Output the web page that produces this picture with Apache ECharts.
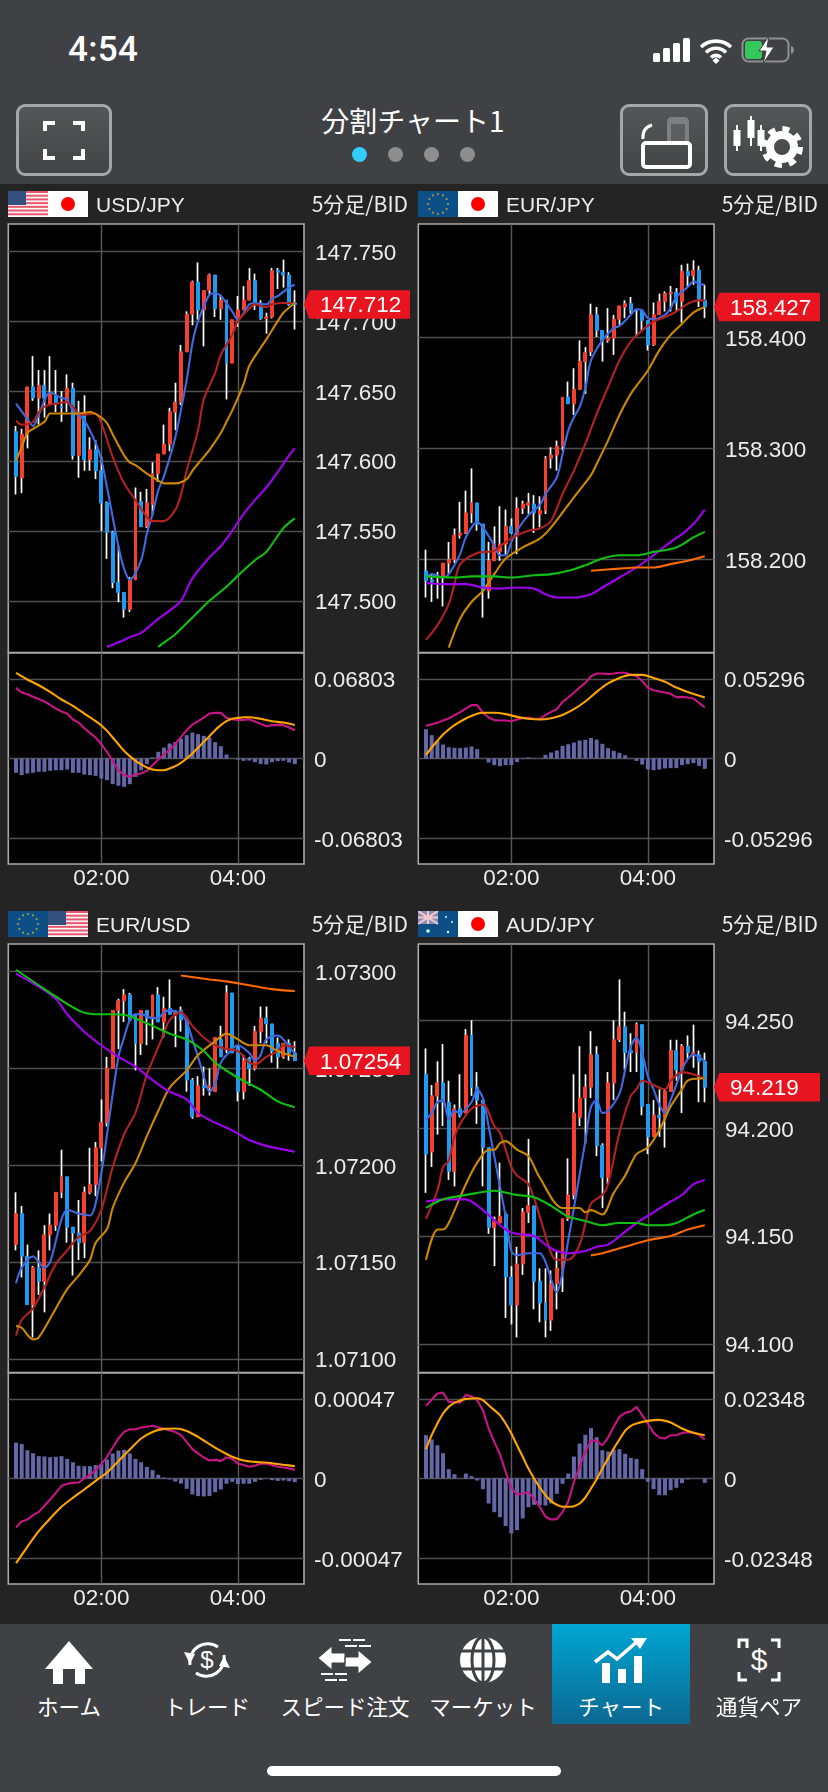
<!DOCTYPE html>
<html lang="ja">
<head>
<meta charset="UTF-8">
<title>分割チャート1</title>
<script src="https://cdn.jsdelivr.net/npm/echarts@6/dist/echarts.min.js"></script>
<style>
  html,body{margin:0;width:828px;height:1792px;background:#242424;overflow:hidden;font-family:"Noto Sans CJK JP","Liberation Sans",sans-serif;color:#fff;}
  #chart{position:absolute;left:0;top:0;width:828px;height:1792px;}
  #top{position:absolute;left:0;top:0;width:828px;height:184px;background:#404144;}
  #nav{position:absolute;left:0;top:1624px;width:828px;height:168px;background:#404144;}
  #time{position:absolute;left:68px;top:29px;font:500 35px Roboto,"Liberation Sans";letter-spacing:.3px;}
  #name{position:absolute;left:213px;width:400px;top:100px;text-align:center;font-size:28px;line-height:40px;}
  .dot{position:absolute;top:147px;width:15px;height:15px;border-radius:50%;background:#8e8e8e;}
  .btn{position:absolute;top:104px;height:66px;border:3px solid #a3a7a7;border-radius:9px;background:linear-gradient(#555658,#434446);}
  .btn svg,.flag svg,.ico svg{display:block;}
  .flag{position:absolute;width:80px;height:26px;}
  .tab{position:absolute;top:1624px;height:100px;text-align:center;font-size:21.5px;}
  .tab span{position:absolute;left:-30px;right:-30px;top:66px;line-height:32px;white-space:nowrap;}
  .tab.on{background:linear-gradient(#00a6d2,#0b6892);}
  .ico{position:absolute;top:12px;left:50%;margin-left:-28px;}
  #bar{position:absolute;left:267px;top:1766px;width:294px;height:10px;border-radius:5px;background:#fff;}
</style>
</head>
<body>
<div id="chart"></div>

<div id="top">
  <div id="time">4:54</div>
  <svg style="position:absolute;left:650px;top:34px" width="150" height="32">
    <rect x="3" y="19" width="7" height="9" rx="1.5" fill="#fff"/><rect x="13" y="14" width="7" height="14" rx="1.5" fill="#fff"/>
    <rect x="23" y="9" width="7" height="19" rx="1.5" fill="#fff"/><rect x="33" y="4" width="7" height="24" rx="1.5" fill="#fff"/>
    <path d="M51 13a22 22 0 0 1 30 0M56 18.500a14 14 0 0 1 20 0M61 23.500a7 7 0 0 1 10 0" fill="none" stroke="#fff" stroke-width="3.600"/>
    <path d="M62.500 26.500l3.500-3 3.500 3-3.500 3.500z" fill="#fff"/>
    <rect x="92.500" y="4.500" width="46" height="23" rx="6" fill="none" stroke="#8d8f90" stroke-width="2"/>
    <rect x="95" y="7" width="17" height="18" rx="3" fill="#34c759"/>
    <path d="M141 12v8c2-.5 3-2 3-4s-1-3.500-3-4z" fill="#8d8f90"/>
    <path d="M119 2l-10 15h7l-3 13 11-17h-7z" fill="#fff" stroke="#404144" stroke-width="1"/>
  </svg>
  <div id="name">分割チャート1</div>
  <div class="dot" style="left:352px;background:#33ccff"></div>
  <div class="dot" style="left:388px"></div>
  <div class="dot" style="left:424px"></div>
  <div class="dot" style="left:460px"></div>
  <div class="btn" style="left:16px;width:90px">
    <svg width="90" height="66"><path d="M26 24v-8h10M64 24v-8h-10M26 42v9h10M64 42v9h-10" fill="none" stroke="#fff" stroke-width="4"/></svg>
  </div>
  <div class="btn" style="left:620px;width:82px">
    <svg width="82" height="66"><rect x="20" y="36" width="47" height="24" rx="3" fill="none" stroke="#fff" stroke-width="4"/>
      <path d="M44 34V15q0-5 5-5h12q5 0 5 5v19z" fill="#7d7f80"/><path d="M48 34V17h14v17z" fill="#5c5e60"/>
      <path d="M20 32q-1-11 9-14" fill="none" stroke="#fff" stroke-width="3"/></svg>
  </div>
  <div class="btn" style="left:724px;width:82px">
    <svg width="82" height="66"><g stroke="#fff" stroke-width="2" fill="#fff"><path d="M10 18v26M24 9v30M34 18v26"/><rect x="7.500" y="24" width="5" height="14"/><rect x="21.500" y="14" width="5" height="16"/><rect x="31.500" y="24" width="5" height="14"/></g>
      <circle cx="55" cy="40" r="12" fill="none" stroke="#fff" stroke-width="8"/><circle cx="55" cy="40" r="18" fill="none" stroke="#fff" stroke-width="6" stroke-dasharray="7 7.100"/></svg>
  </div>
</div>

<div class="flag" style="left:8px;top:191px" id="f0"></div>
<div class="flag" style="left:418px;top:191px" id="f1"></div>
<div class="flag" style="left:8px;top:911px" id="f2"></div>
<div class="flag" style="left:418px;top:911px" id="f3"></div>

<div id="nav"></div>
<div class="tab" style="left:0;width:138px"><div class="ico"><svg width="56" height="48"><path d="M28 5L4 33h8v15h10V33h12v15h10V33h8z" fill="#fff"/></svg></div><span>ホーム</span></div>
<div class="tab" style="left:138px;width:138px"><div class="ico"><svg width="56" height="48"><path d="M11 29a18 18 0 0 1 28-18M45 19a18 18 0 0 1-28 18" fill="none" stroke="#fff" stroke-width="3"/><path d="M5 16l11 2-5 10zM51 32l-11-2 5-10z" fill="#fff"/><text x="28" y="32" font-size="24" text-anchor="middle" fill="#fff" font-family="Liberation Sans">$</text></svg></div><span>トレード</span></div>
<div class="tab" style="left:276px;width:138px"><div class="ico"><svg width="56" height="48"><path d="M1 22l14-12v7h13v10H15v7zM55 26L41 38v-7H28V21h13v-7z" fill="#fff" stroke="#404144"/><path d="M22 4h26M28 10h26M4 38h28M8 44h22" stroke="#fff" stroke-width="2" stroke-dasharray="12 2"/></svg></div><span>スピード注文</span></div>
<div class="tab" style="left:414px;width:138px"><div class="ico"><svg width="56" height="48"><circle cx="28" cy="24" r="23" fill="#fff"/><ellipse cx="28" cy="24" rx="11" ry="23" fill="none" stroke="#404144" stroke-width="3"/><path d="M28 0v48M2 15h52M2 33h52" stroke="#404144" stroke-width="3"/></svg></div><span>マーケット</span></div>
<div class="tab on" style="left:552px;width:138px"><div class="ico"><svg width="56" height="48"><path d="M2 26l13-10 9 7L46 4" fill="none" stroke="#fff" stroke-width="3.500"/><path d="M38 2h16l-7 11z" fill="#fff"/><path d="M9 27h8v20H9zM25 33h8v14h-8zM36 33h0M41 20h8v27h-8z" fill="#fff"/></svg></div><span>チャート</span></div>
<div class="tab" style="left:690px;width:138px"><div class="ico"><svg width="56" height="48"><path d="M16 12V4h-8v8M40 4h8v8M8 36v8h8M48 36v8h-8" transform="translate(0,0)" fill="none" stroke="#fff" stroke-width="3"/><text x="28" y="34" font-size="30" text-anchor="middle" fill="#fff" font-family="Liberation Sans">$</text></svg></div><span>通貨ペア</span></div>
<div id="bar"></div>

<script>
// rows are [open, close, low, high], one per 5 minute candle, first candle is 00:45
const usdJpyCandles = [
[147.621,147.589,147.576,147.625],[147.588,147.619,147.577,147.623],[147.619,147.653,147.609,147.653],[147.653,147.645,147.643,147.675],[147.645,147.654,147.626,147.665],
[147.654,147.645,147.631,147.665],[147.641,147.648,147.640,147.675],[147.646,147.641,147.635,147.665],[147.639,147.638,147.628,147.650],[147.642,147.652,147.635,147.662],
[147.652,147.604,147.601,147.656],[147.604,147.634,147.588,147.643],[147.633,147.601,147.593,147.647],[147.601,147.608,147.593,147.617],[147.608,147.593,147.587,147.615],
[147.593,147.570,147.550,147.603],[147.570,147.549,147.530,147.571],[147.549,147.513,147.509,147.550],[147.513,147.506,147.499,147.539],[147.506,147.494,147.488,147.506],
[147.494,147.515,147.492,147.517],[147.515,147.572,147.515,147.581],[147.571,147.553,147.553,147.578],[147.553,147.570,147.552,147.580],[147.569,147.591,147.561,147.599],
[147.591,147.605,147.585,147.605],[147.605,147.612,147.605,147.626],[147.612,147.635,147.607,147.638],[147.635,147.642,147.622,147.656],[147.642,147.678,147.640,147.683],
[147.678,147.705,147.678,147.707],[147.705,147.728,147.697,147.729],[147.728,147.708,147.701,147.742],[147.708,147.722,147.682,147.722],[147.722,147.733,147.719,147.734],
[147.733,147.709,147.703,147.733],[147.709,147.715,147.701,147.719],[147.715,147.670,147.644,147.715],[147.670,147.701,147.670,147.701],[147.701,147.708,147.696,147.718],
[147.708,147.715,147.708,147.725],[147.715,147.729,147.715,147.738],[147.729,147.712,147.708,147.734],[147.712,147.702,147.701,147.715],[147.702,147.703,147.691,147.706],
[147.703,147.736,147.702,147.738],[147.736,147.735,147.723,147.738],[147.735,147.733,147.724,147.744],[147.733,147.712,147.711,147.735],[147.713,147.712,147.694,147.722]];
const eurJpyCandles = [
[158.190,158.181,158.166,158.209],[158.182,158.180,158.162,158.187],[158.186,158.184,158.165,158.189],[158.184,158.197,158.158,158.197],[158.197,158.200,158.187,158.216],
[158.200,158.222,158.197,158.228],[158.222,158.224,158.219,158.252],[158.224,158.242,158.223,158.262],[158.242,158.251,158.233,158.282],[158.251,158.232,158.226,158.251],
[158.232,158.172,158.148,158.232],[158.172,158.199,158.165,158.216],[158.199,158.214,158.199,158.230],[158.207,158.214,158.199,158.248],[158.214,158.230,158.205,158.245],
[158.230,158.224,158.223,158.237],[158.224,158.246,158.205,158.256],[158.246,158.250,158.241,158.253],[158.249,158.251,158.241,158.260],[158.250,158.242,158.224,158.258],
[158.241,158.244,158.229,158.257],[158.244,158.291,158.241,158.293],[158.291,158.294,158.282,158.301],[158.294,158.302,158.280,158.307],[158.302,158.346,158.298,158.346],
[158.346,158.340,158.340,158.360],[158.340,158.353,158.330,158.372],[158.353,158.378,158.353,158.397],[158.378,158.386,158.349,158.391],[158.387,158.420,158.383,158.430],
[158.420,158.406,158.400,158.427],[158.406,158.397,158.378,158.406],[158.397,158.399,158.395,158.426],[158.399,158.416,158.384,158.420],[158.416,158.428,158.411,158.428],
[158.427,158.430,158.417,158.433],[158.430,158.424,158.421,158.436],[158.425,158.424,158.401,158.425],[158.424,158.415,158.405,158.424],[158.415,158.393,158.388,158.415],
[158.393,158.420,158.392,158.431],[158.420,158.432,158.420,158.439],[158.432,158.439,158.423,158.441],[158.439,158.440,158.423,158.446],[158.440,158.431,158.423,158.444],
[158.432,158.459,158.413,158.465],[158.459,158.455,158.445,158.466],[158.455,158.460,158.447,158.469],[158.460,158.434,158.427,158.464],[158.433,158.427,158.417,158.447]];
const eurUsdCandles = [
[1.07159,1.07175,1.07156,1.07186],[1.07175,1.07153,1.07142,1.07179],[1.07153,1.07128,1.07128,1.07159],[1.07128,1.07147,1.07111,1.07148],[1.07147,1.07140,1.07133,1.07156],
[1.07140,1.07164,1.07124,1.07169],[1.07164,1.07169,1.07156,1.07175],[1.07169,1.07186,1.07166,1.07186],[1.07186,1.07194,1.07183,1.07208],[1.07194,1.07168,1.07160,1.07194],
[1.07168,1.07165,1.07143,1.07168],[1.07165,1.07160,1.07151,1.07182],[1.07160,1.07186,1.07152,1.07189],[1.07186,1.07190,1.07185,1.07209],[1.07190,1.07209,1.07184,1.07212],
[1.07209,1.07222,1.07202,1.07234],[1.07222,1.07250,1.07220,1.07256],[1.07250,1.07280,1.07250,1.07280],[1.07280,1.07285,1.07260,1.07286],[1.07285,1.07288,1.07274,1.07291],
[1.07288,1.07275,1.07274,1.07289],[1.07278,1.07263,1.07249,1.07278],[1.07263,1.07280,1.07257,1.07280],[1.07280,1.07276,1.07262,1.07280],[1.07276,1.07288,1.07265,1.07288],
[1.07288,1.07274,1.07274,1.07292],[1.07274,1.07281,1.07266,1.07287],[1.07281,1.07278,1.07278,1.07296],[1.07278,1.07279,1.07261,1.07280],[1.07280,1.07275,1.07269,1.07282],
[1.07275,1.07244,1.07238,1.07275],[1.07244,1.07225,1.07224,1.07245],[1.07225,1.07241,1.07225,1.07246],[1.07241,1.07240,1.07236,1.07251],[1.07240,1.07241,1.07236,1.07250],
[1.07238,1.07266,1.07238,1.07266],[1.07265,1.07256,1.07256,1.07272],[1.07260,1.07289,1.07258,1.07293],[1.07289,1.07258,1.07258,1.07289],[1.07261,1.07238,1.07233,1.07262],
[1.07238,1.07254,1.07234,1.07257],[1.07255,1.07250,1.07241,1.07256],[1.07250,1.07269,1.07249,1.07272],[1.07269,1.07276,1.07263,1.07282],[1.07276,1.07273,1.07263,1.07282],
[1.07273,1.07259,1.07253,1.07273],[1.07263,1.07256,1.07250,1.07266],[1.07256,1.07263,1.07255,1.07263],[1.07263,1.07258,1.07254,1.07265],[1.07258,1.07254,1.07254,1.07264]];
const audJpyCandles = [
[94.225,94.188,94.170,94.237],[94.189,94.215,94.182,94.220],[94.215,94.221,94.197,94.231],[94.221,94.212,94.201,94.239],[94.212,94.180,94.176,94.222],
[94.180,94.209,94.173,94.211],[94.209,94.206,94.205,94.225],[94.207,94.243,94.207,94.246],[94.243,94.219,94.215,94.250],[94.219,94.213,94.202,94.226],
[94.213,94.191,94.173,94.213],[94.191,94.154,94.151,94.191],[94.154,94.157,94.136,94.159],[94.156,94.159,94.156,94.184],[94.160,94.131,94.112,94.161],
[94.131,94.118,94.109,94.136],[94.118,94.137,94.103,94.145],[94.137,94.161,94.132,94.163],[94.161,94.164,94.156,94.195],[94.164,94.129,94.116,94.164],
[94.129,94.119,94.110,94.135],[94.119,94.111,94.103,94.135],[94.111,94.128,94.106,94.134],[94.128,94.135,94.116,94.143],[94.135,94.158,94.124,94.158],
[94.158,94.169,94.157,94.186],[94.169,94.207,94.167,94.225],[94.205,94.214,94.201,94.238],[94.214,94.219,94.193,94.225],[94.219,94.234,94.214,94.245],
[94.234,94.192,94.187,94.238],[94.192,94.177,94.163,94.193],[94.177,94.221,94.174,94.226],[94.221,94.241,94.213,94.250],[94.241,94.247,94.240,94.269],
[94.247,94.235,94.227,94.254],[94.236,94.235,94.226,94.244],[94.235,94.248,94.226,94.249],[94.248,94.210,94.206,94.248],[94.211,94.196,94.188,94.211],
[94.196,94.206,94.196,94.213],[94.206,94.205,94.196,94.218],[94.205,94.217,94.191,94.218],[94.217,94.236,94.217,94.241],[94.236,94.227,94.222,94.241],
[94.227,94.238,94.207,94.239],[94.238,94.235,94.232,94.243],[94.234,94.235,94.228,94.248],[94.234,94.231,94.212,94.236],[94.231,94.219,94.212,94.235]];

// moving averages as [candle index, price]
const usdJpyMa1 = [[0,147.641],[2,147.630],[3,147.625],[4,147.633],[6,147.649],[8,147.645],[9,147.644],[10,147.636],[12,147.629],[14,147.613],[15,147.601],[16,147.581],[18,147.539],[19,147.523],[20,147.515],[22,147.529],[23,147.548],[24,147.562],[25,147.579],[26,147.589],[28,147.617],[30,147.658],[31,147.684],[32,147.700],[34,147.719],[35,147.720],[36,147.718],[38,147.707],[39,147.701],[41,147.712],[42,147.713],[44,147.712],[45,147.716],[46,147.718],[48,147.724],[49,147.726]];
const usdJpyMa2 = [[0,147.629],[1,147.626],[3,147.628],[4,147.635],[5,147.639],[7,147.641],[9,147.642],[11,147.634],[12,147.633],[14,147.634],[15,147.627],[17,147.603],[19,147.584],[21,147.572],[23,147.560],[24,147.557],[26,147.557],[28,147.565],[29,147.576],[30,147.593],[32,147.622],[33,147.644],[35,147.663],[36,147.676],[38,147.690],[39,147.700],[41,147.709],[42,147.712],[44,147.710],[45,147.712],[47,147.713],[49,147.713]];
const usdJpyMa3 = [[0,147.600],[1,147.610],[2,147.620],[3,147.623],[5,147.628],[6,147.634],[8,147.634],[10,147.634],[11,147.634],[13,147.635],[15,147.631],[16,147.627],[17,147.619],[19,147.604],[20,147.599],[21,147.597],[23,147.591],[25,147.586],[26,147.584],[28,147.584],[30,147.587],[31,147.593],[32,147.598],[34,147.608],[36,147.620],[37,147.628],[38,147.636],[40,147.655],[41,147.668],[43,147.681],[44,147.687],[46,147.700],[47,147.706],[49,147.713]];
const usdJpyMa4 = [[16,147.467],[19,147.472],[20,147.474],[22,147.477],[25,147.487],[27,147.493],[29,147.500],[31,147.516],[34,147.531],[36,147.539],[38,147.550],[40,147.562],[42,147.572],[44,147.581],[46,147.592],[48,147.604],[49,147.609]];
const usdJpyMa5 = [[25,147.467],[27,147.473],[28,147.476],[32,147.492],[34,147.500],[37,147.510],[39,147.518],[42,147.529],[44,147.535],[47,147.552],[49,147.559]];

const eurJpyMa1 = [[0,158.184],[1,158.187],[3,158.184],[4,158.187],[6,158.205],[7,158.220],[9,158.234],[10,158.229],[12,158.213],[13,158.204],[14,158.204],[15,158.216],[16,158.226],[18,158.240],[20,158.249],[21,158.259],[23,158.274],[24,158.295],[25,158.316],[26,158.328],[27,158.337],[28,158.354],[29,158.379],[31,158.397],[33,158.408],[34,158.410],[36,158.420],[37,158.425],[38,158.424],[39,158.417],[40,158.416],[42,158.420],[43,158.426],[44,158.436],[46,158.445],[47,158.450],[48,158.448],[49,158.447]];
const eurJpyMa2 = [[0,158.128],[2,158.141],[4,158.160],[5,158.178],[6,158.196],[9,158.206],[12,158.208],[14,158.216],[16,158.222],[18,158.226],[20,158.228],[22,158.235],[24,158.259],[26,158.280],[28,158.304],[30,158.331],[32,158.355],[34,158.379],[36,158.396],[38,158.406],[40,158.414],[42,158.418],[44,158.423],[46,158.430],[48,158.433],[49,158.433]];
const eurJpyMa3 = [[4,158.121],[6,158.147],[8,158.162],[10,158.172],[12,158.187],[14,158.201],[17,158.211],[20,158.219],[22,158.229],[26,158.256],[29,158.276],[30,158.286],[32,158.307],[34,158.330],[36,158.349],[39,158.370],[41,158.388],[43,158.402],[45,158.412],[47,158.422],[49,158.427]];
const eurJpyMa4 = [[0,158.179],[3,158.178],[7,158.178],[10,158.175],[13,158.174],[16,158.175],[19,158.174],[21,158.169],[23,158.166],[26,158.166],[29,158.169],[31,158.175],[34,158.184],[37,158.193],[40,158.204],[43,158.216],[45,158.223],[47,158.232],[49,158.245]];
const eurJpyMa5 = [[0,158.185],[5,158.184],[8,158.185],[12,158.185],[15,158.184],[19,158.186],[22,158.187],[25,158.190],[28,158.195],[31,158.201],[34,158.204],[37,158.204],[40,158.207],[44,158.211],[47,158.220],[49,158.225]];
const eurJpyMa6 = [[29,158.190],[34,158.192],[37,158.193],[40,158.193],[43,158.196],[46,158.199],[49,158.203]];

const eurUsdMa1 = [[0,1.07139],[1,1.07147],[3,1.07153],[5,1.07147],[6,1.07150],[8,1.07172],[9,1.07177],[11,1.07175],[13,1.07174],[15,1.07196],[16,1.07216],[18,1.07256],[19,1.07266],[20,1.07275],[21,1.07278],[22,1.07278],[24,1.07276],[25,1.07276],[26,1.07279],[27,1.07280],[29,1.07278],[30,1.07274],[31,1.07265],[32,1.07256],[33,1.07246],[34,1.07238],[35,1.07242],[36,1.07253],[38,1.07260],[39,1.07262],[41,1.07258],[42,1.07254],[43,1.07257],[44,1.07265],[46,1.07267],[47,1.07265],[48,1.07261],[49,1.07258]];
const eurUsdMa2 = [[0,1.07112],[1,1.07120],[3,1.07126],[5,1.07137],[7,1.07149],[9,1.07156],[11,1.07163],[13,1.07166],[15,1.07177],[17,1.07199],[19,1.07216],[21,1.07227],[23,1.07247],[24,1.07254],[26,1.07268],[27,1.07275],[29,1.07279],[31,1.07272],[33,1.07266],[35,1.07262],[37,1.07260],[39,1.07259],[41,1.07253],[42,1.07252],[44,1.07256],[46,1.07259],[47,1.07262],[49,1.07261]];
const eurUsdMa3 = [[0,1.07117],[1,1.07116],[3,1.07110],[4,1.07111],[7,1.07126],[9,1.07136],[11,1.07143],[13,1.07151],[14,1.07160],[16,1.07167],[17,1.07178],[19,1.07191],[21,1.07201],[23,1.07215],[25,1.07228],[27,1.07240],[30,1.07249],[32,1.07257],[35,1.07264],[37,1.07268],[39,1.07265],[41,1.07262],[44,1.07262],[46,1.07259],[49,1.07256]];
const eurUsdMa4 = [[0,1.07299],[3,1.07294],[7,1.07286],[9,1.07278],[12,1.07269],[15,1.07262],[18,1.07256],[21,1.07251],[24,1.07244],[27,1.07238],[30,1.07234],[32,1.07227],[35,1.07222],[38,1.07218],[41,1.07213],[44,1.07210],[49,1.07207]];
const eurUsdMa5 = [[0,1.07301],[5,1.07291],[11,1.07280],[14,1.07278],[17,1.07278],[20,1.07277],[24,1.07272],[27,1.07268],[30,1.07265],[33,1.07259],[35,1.07253],[38,1.07247],[41,1.07242],[43,1.07239],[46,1.07233],[49,1.07230]];
const eurUsdMa6 = [[29,1.07298],[34,1.07296],[37,1.07295],[41,1.07293],[45,1.07291],[49,1.07290]];

const audJpyMa1 = [[0,94.204],[1,94.207],[2,94.212],[3,94.213],[4,94.204],[5,94.208],[6,94.207],[8,94.212],[9,94.218],[10,94.214],[11,94.201],[13,94.173],[14,94.159],[15,94.143],[16,94.141],[18,94.142],[20,94.142],[21,94.138],[23,94.124],[24,94.133],[25,94.148],[26,94.163],[28,94.194],[29,94.210],[30,94.213],[31,94.207],[32,94.208],[34,94.216],[35,94.227],[36,94.238],[37,94.242],[38,94.235],[39,94.224],[40,94.218],[41,94.211],[42,94.207],[43,94.213],[45,94.227],[46,94.232],[47,94.234],[48,94.233],[49,94.231]];
const audJpyMa2 = [[0,94.158],[2,94.171],[3,94.182],[4,94.185],[5,94.196],[6,94.202],[8,94.209],[10,94.211],[12,94.201],[13,94.198],[15,94.182],[16,94.178],[18,94.174],[20,94.159],[22,94.142],[23,94.139],[25,94.139],[27,94.146],[29,94.165],[31,94.169],[32,94.174],[34,94.198],[36,94.215],[37,94.218],[38,94.222],[42,94.218],[43,94.222],[45,94.226],[47,94.225],[49,94.223]];
const audJpyMa3 = [[0,94.139],[2,94.153],[3,94.153],[4,94.156],[7,94.174],[9,94.184],[11,94.190],[12,94.190],[13,94.193],[14,94.194],[16,94.190],[18,94.187],[20,94.177],[24,94.163],[27,94.163],[28,94.161],[29,94.162],[31,94.160],[33,94.170],[35,94.178],[37,94.188],[39,94.191],[41,94.199],[43,94.210],[45,94.218],[46,94.222],[48,94.223],[49,94.223]];
const audJpyMa4 = [[0,94.166],[3,94.167],[7,94.167],[10,94.162],[14,94.153],[16,94.151],[19,94.150],[21,94.146],[23,94.143],[25,94.142],[28,94.143],[30,94.145],[32,94.146],[35,94.152],[37,94.156],[40,94.161],[43,94.166],[45,94.169],[47,94.174],[49,94.176]];
const audJpyMa5 = [[0,94.163],[3,94.167],[7,94.169],[12,94.171],[16,94.169],[19,94.168],[22,94.164],[25,94.159],[28,94.157],[31,94.155],[34,94.156],[37,94.156],[39,94.155],[42,94.155],[44,94.156],[47,94.160],[49,94.162]];
const audJpyMa6 = [[29,94.141],[31,94.142],[35,94.145],[39,94.148],[43,94.150],[46,94.153],[49,94.155]];

// MACD panels: histogram and signal-style lines
const usdJpyHist = [-.0122,-.0142,-.0128,-.0122,-.0114,-.0114,-.0105,-.0100,-.0100,-.0094,-.0122,-.0122,-.0137,-.0142,-.0148,-.0171,-.0185,-.0219,-.0233,-.0242,-.0219,-.0157,-.0100,-.0048,.0009,.0057,.0094,.0128,.0142,.0171,.0199,.0222,.0208,.0194,.0179,.0140,.0105,.0034,0,-.0009,-.0020,-.0017,-.0031,-.0046,-.0051,-.0031,-.0023,-.0020,-.0034,-.0048];
const usdJpyMacd = [.0603,.0564,.0549,.0527,.0509,.0487,.0458,.0427,.0401,.0384,.0333,.0307,.0259,.0219,.0179,.0122,.0057,-.0023,-.0100,-.0142,-.0157,-.0137,-.0128,-.0105,-.0057,-.0009,.0034,.0077,.0122,.0185,.0242,.0290,.0319,.0350,.0384,.0390,.0390,.0347,.0336,.0330,.0330,.0336,.0316,.0296,.0276,.0285,.0287,.0285,.0265,.0242];
const usdJpySignal = [[0,.0731],[2,.0675],[4,.0626],[6,.0569],[8,.0504],[10,.0450],[12,.0384],[14,.0319],[15,.0282],[16,.0236],[17,.0179],[18,.0122],[19,.0065],[20,.0020],[21,-.0020],[22,-.0051],[23,-.0077],[24,-.0094],[25,-.0100],[26,-.0100],[27,-.0085],[28,-.0065],[29,-.0037],[30,0],[31,.0043],[32,.0091],[33,.0142],[34,.0191],[35,.0242],[36,.0285],[37,.0319],[38,.0339],[39,.0347],[40,.0353],[41,.0353],[43,.0339],[45,.0319],[47,.0307],[49,.0287]];

const eurJpyHist = [.0195,.0155,.0115,.0093,.0075,.0071,.0069,.0073,.0080,.0062,0,-.0027,-.0044,-.0051,-.0044,-.0044,-.0024,-.0004,.0007,.0004,0,.0024,.0040,.0053,.0084,.0095,.0106,.0120,.0124,.0137,.0126,.0098,.0069,.0051,.0038,.0022,.0002,-.0016,-.0040,-.0073,-.0078,-.0073,-.0066,-.0064,-.0064,-.0044,-.0038,-.0031,-.0049,-.0069];
const eurJpyMacd = [.0217,.0228,.0237,.0253,.0266,.0288,.0308,.0332,.0355,.0355,.0304,.0273,.0255,.0253,.0253,.0248,.0259,.0270,.0270,.0264,.0264,.0288,.0310,.0328,.0377,.0406,.0437,.0472,.0503,.0547,.0565,.0565,.0561,.0565,.0570,.0570,.0558,.0547,.0516,.0470,.0454,.0445,.0439,.0430,.0408,.0410,.0406,.0399,.0370,.0339];
const eurJpySignal = [[0,.0024],[1,.0073],[2,.0117],[3,.0160],[4,.0193],[5,.0222],[7,.0266],[9,.0297],[10,.0304],[12,.0304],[14,.0295],[16,.0277],[18,.0264],[20,.0259],[22,.0268],[24,.0290],[26,.0328],[28,.0379],[30,.0443],[32,.0499],[34,.0536],[36,.0556],[38,.0556],[40,.0536],[42,.0510],[44,.0472],[46,.0443],[49,.0406]];

const eurUsdHist = [.000212,.000203,.000167,.000149,.000132,.000130,.000126,.000128,.000132,.000116,.000096,.000075,.000073,.000073,.000079,.000085,.000112,.000148,.000165,.000169,.000148,.000116,.000096,.000069,.000049,.000022,.000006,-.000006,-.000018,-.000030,-.000061,-.000094,-.000104,-.000106,-.000104,-.000081,-.000065,-.000031,-.000020,-.000033,-.000031,-.000031,-.000020,-.000008,0,-.000010,-.000014,-.000012,-.000016,-.000022];
const eurUsdMacd = [-.000289,-.000254,-.000242,-.000216,-.000197,-.000161,-.000124,-.000085,-.000043,-.000031,-.000026,-.000024,0,.000020,.000049,.000085,.000128,.000183,.000236,.000275,.000291,.000291,.000301,.000305,.000311,.000301,.000293,.000285,.000275,.000256,.000216,.000173,.000148,.000124,.000106,.000110,.000104,.000124,.000116,.000089,.000079,.000069,.000075,.000087,.000089,.000079,.000069,.000065,.000059,.000051];
const eurUsdSignal = [[0,-.000500],[2,-.000403],[4,-.000311],[6,-.000236],[8,-.000167],[10,-.000114],[12,-.000065],[14,-.000014],[16,.000035],[18,.000102],[20,.000171],[22,.000236],[24,.000275],[26,.000293],[28,.000295],[30,.000281],[32,.000246],[34,.000203],[36,.000163],[38,.000128],[40,.000106],[42,.000098],[44,.000094],[47,.000081],[49,.000073]];

const audJpyHist = [.01277,.01149,.00982,.00747,.00275,.00128,0,.00147,.00069,-.00059,-.00314,-.00737,-.00992,-.0114,-.01405,-.01621,-.01523,-.01179,-.00845,-.00776,-.00786,-.00796,-.00737,-.00452,-.00157,.00147,.00648,.01032,.01287,.01483,.01218,.00835,.00796,.00855,.00865,.00727,.00609,.0058,.00275,-.00098,-.00314,-.00491,-.00491,-.00344,-.00275,-.00138,-.00029,0,0,-.00128];
const audJpyMacd = [.02142,.02328,.02505,.02535,.0226,.0226,.0223,.02466,.02427,.02309,.02014,.01474,.01081,.00717,.00196,-.00275,-.00472,-.00442,-.00403,-.00589,-.00835,-.0113,-.01208,-.01199,-.00982,-.00688,-.00098,.00344,.00786,.0113,.0111,.00973,.01208,.01523,.01817,.01935,.01975,.02112,.01867,.01621,.01346,.01208,.01179,.01277,.01277,.01346,.01366,.01346,.01287,.01149];
const audJpySignal = [[0,.00865],[1,.01277],[2,.01621],[3,.01916],[4,.02112],[5,.0223],[7,.02348],[9,.02368],[10,.02309],[11,.02161],[13,.01867],[14,.01621],[15,.01326],[16,.00982],[17,.00639],[18,.00295],[19,0],[20,-.00265],[21,-.00491],[22,-.00668],[23,-.00776],[24,-.00835],[25,-.00835],[26,-.00815],[27,-.00737],[28,-.0056],[29,-.00295],[30,-.0002],[31,.00295],[32,.00589],[33,.00884],[34,.01149],[35,.01405],[36,.01552],[37,.01621],[39,.017],[41,.01729],[43,.0165],[45,.01474],[47,.01346],[49,.01277]];

const pairNames = ['USD/JPY','EUR/JPY','EUR/USD','AUD/JPY'];
const lastPrices = [147.712,158.427,1.07254,94.219];
const priceDigits = [3,3,5,3];
const priceTicks = [
  [147.5,147.55,147.6,147.65,147.7,147.75],
  [158.2,158.3,158.4],
  [1.071,1.0715,1.072,1.0725,1.073],
  [94.1,94.15,94.2,94.25]];
const priceRanges = [[147.463,147.7695],[158.1166,158.5016],[1.070929,1.073143],[94.0867,94.2854]];
const macdTicks = [.06803,.05296,.00047,.02348];
const timeTicks = [15,39];
const timeLabels = ['02:00','04:00'];
const timeframe = '5分足/BID';

const allCandles = [usdJpyCandles,eurJpyCandles,eurUsdCandles,audJpyCandles];
const allMas = [
  [usdJpyMa1,usdJpyMa2,usdJpyMa3,usdJpyMa4,usdJpyMa5],
  [eurJpyMa1,eurJpyMa2,eurJpyMa3,eurJpyMa4,eurJpyMa5,eurJpyMa6],
  [eurUsdMa1,eurUsdMa2,eurUsdMa3,eurUsdMa4,eurUsdMa5,eurUsdMa6],
  [audJpyMa1,audJpyMa2,audJpyMa3,audJpyMa4,audJpyMa5,audJpyMa6]];
const allHist = [usdJpyHist,eurJpyHist,eurUsdHist,audJpyHist];
const allMacd = [usdJpyMacd,eurJpyMacd,eurUsdMacd,audJpyMacd];
const allSignal = [usdJpySignal,eurJpySignal,eurUsdSignal,audJpySignal];

const maColors = ['#4169e1','#b22222','#cc8800','#a000f0','#10c010','#ff6a00'];
const textColor = '#ececec';
const labelFont = '"Liberation Sans",Arial,sans-serif';
const labelSize = 22.5;
const xMin = -1.353, xMax = 50.62;   // frame edges in candle index units
const macdSpan = 1.325;              // frame half height in macd tick units

const grids=[], xAxes=[], yAxes=[], series=[], titles=[];

pairNames.forEach((pair,p)=>{
  const dx = (p%2)*410, dy = (p>>1)*720;
  const main = p*2, sub = p*2+1;
  const frame = {show:true,backgroundColor:'#000',borderColor:'#aaa',borderWidth:1.6,left:8.3+dx,width:295.7};
  grids.push({...frame,top:224+dy,height:428.5},{...frame,top:653+dy,height:211});

  const vertical = {min:xMin,max:xMax,axisLine:{show:false},axisTick:{show:false,customValues:timeTicks},
    splitLine:{show:true,lineStyle:{color:'#5a5a5a',width:1.4}}};
  xAxes.push({type:'value',gridIndex:main,...vertical,axisLabel:{show:false}});
  xAxes.push({type:'value',gridIndex:sub,...vertical,axisLabel:{show:true,customValues:timeTicks,margin:3,
    color:textColor,fontSize:labelSize,fontFamily:labelFont,formatter:v=>timeLabels[timeTicks.indexOf(v)]}});

  // top aligned with a short line box drops the text about 2px onto the grid line
  const horizontal = {position:'right',scale:true,axisLine:{show:false},splitLine:{show:true,lineStyle:{color:'#505050',width:1.4}}};
  yAxes.push({type:'value',gridIndex:main,...horizontal,min:priceRanges[p][0],max:priceRanges[p][1],
    axisTick:{show:false,customValues:priceTicks[p]},
    axisLabel:{customValues:priceTicks[p],margin:11,verticalAlign:'top',lineHeight:4.5,color:textColor,fontSize:labelSize,fontFamily:labelFont,formatter:v=>v.toFixed(priceDigits[p])}});
  const t = macdTicks[p], mt = [-t,0,t];
  yAxes.push({type:'value',gridIndex:sub,...horizontal,min:-t*macdSpan,max:t*macdSpan,
    axisTick:{show:false,customValues:mt},
    axisLabel:{customValues:mt,margin:10,verticalAlign:'top',lineHeight:4.5,color:textColor,fontSize:labelSize,fontFamily:labelFont,formatter:v=>v===0?'0':v.toFixed(5)}});

  const rows = allCandles[p];
  const white = {color:'#fff',color0:'#fff',borderColor:'#fff',borderColor0:'#fff',borderColorDoji:'#fff',borderWidth:1.7};
  series.push({type:'candlestick',xAxisIndex:main,yAxisIndex:main,barWidth:1,itemStyle:white,
    data:rows.map((r,i)=>[i,...r])});
  series.push({type:'candlestick',xAxisIndex:main,yAxisIndex:main,barWidth:3.4,
    itemStyle:{color:'#f5402f',color0:'#1e9bf0',borderColor:'#f5402f',borderColor0:'#1e9bf0',borderColorDoji:'#1e9bf0',borderWidth:1},
    data:rows.map((r,i)=>[i,r[0],r[1],Math.min(r[0],r[1]),Math.max(r[0],r[1])])});

  allMas[p].forEach((ma,m)=>{
    series.push({type:'line',xAxisIndex:main,yAxisIndex:main,data:ma,showSymbol:false,smooth:.3,
      lineStyle:{color:maColors[m],width:2.1}});
  });
  // current price flag on the right edge of the frame
  series.push({type:'line',xAxisIndex:main,yAxisIndex:main,data:[[49,lastPrices[p]]],showSymbol:false,lineStyle:{width:0},z:9,
    markPoint:{silent:true,symbol:'path://M0,50L5,0L100,0L100,100L5,100Z',symbolSize:[106,28.5],symbolKeepAspect:false,symbolOffset:[53,0],
      itemStyle:{color:'#e8141f'},
      label:{position:[16,16],align:'left',verticalAlign:'middle',color:'#fff',fontSize:labelSize,fontFamily:labelFont,formatter:lastPrices[p].toFixed(priceDigits[p])},
      data:[{coord:[xMax,lastPrices[p]]}]}});

  series.push({type:'bar',xAxisIndex:sub,yAxisIndex:sub,barWidth:4,itemStyle:{color:'#6468a8'},
    data:allHist[p].map((v,i)=>[i,v])});
  series.push({type:'line',xAxisIndex:sub,yAxisIndex:sub,showSymbol:false,lineStyle:{color:'#c71585',width:2.1},
    data:allMacd[p].map((v,i)=>[i,v])});
  series.push({type:'line',xAxisIndex:sub,yAxisIndex:sub,showSymbol:false,smooth:.3,lineStyle:{color:'#ffa500',width:2.1},
    data:allSignal[p]});

  titles.push({text:pair,left:96+dx,top:193+dy,padding:0,textStyle:{color:textColor,fontSize:21,fontWeight:'normal',fontFamily:labelFont,lineHeight:26}});
  titles.push({text:timeframe,right:420-dx,top:191+dy,padding:0,textStyle:{color:textColor,fontSize:21,fontWeight:'normal',fontFamily:'"Noto Sans CJK JP",'+labelFont,lineHeight:26}});
});

const myChart = echarts.init(document.getElementById('chart'),null,{renderer:'canvas'});
myChart.setOption({animation:false,backgroundColor:'transparent',title:titles,grid:grids,xAxis:xAxes,yAxis:yAxes,series});

// flags, drawn plainly
const flagJp = `<rect x="40" width="40" height="26" fill="#fff"/><circle cx="60" cy="13" r="7" fill="#f00"/>`;
function flagUs(x){
  let s=`<rect x="${x}" width="40" height="26" fill="#f8f8f8"/>`;
  for(let i=0;i<7;i++) s+=`<rect x="${x}" y="${i*3.71}" width="40" height="2" fill="#e8566e"/>`;
  return s+`<rect x="${x}" width="18" height="14" fill="#33507f"/>`;
}
function flagEu(x){
  let s=`<rect x="${x}" width="40" height="26" fill="#0b4f86"/>`;
  for(let i=0;i<12;i++){const a=i*Math.PI/6;s+=`<circle cx="${x+20+10*Math.cos(a)}" cy="${13+10*Math.sin(a)}" r="1.100" fill="#a89a3a"/>`;}
  return s;
}
const flagAu = `<rect width="40" height="26" fill="#0b4f86"/><rect width="20" height="13" fill="#8a8fb4"/><path d="M0 0L20 13M20 0L0 13M10 0V13M0 6.500H20" stroke="#f4c8d0" stroke-width="2"/><circle cx="10" cy="20" r="1.800" fill="#cfe"/><circle cx="28" cy="6" r="1" fill="#cfe"/><circle cx="34" cy="11" r="1" fill="#cfe"/><circle cx="30" cy="21" r="1.200" fill="#cfe"/>`;
const flags = [flagUs(0)+flagJp,flagEu(0)+flagJp,flagEu(0)+flagUs(40),flagAu+flagJp];
flags.forEach((f,i)=>{document.getElementById('f'+i).innerHTML=`<svg width="80" height="26">${f}</svg>`;});
</script>
</body>
</html>
